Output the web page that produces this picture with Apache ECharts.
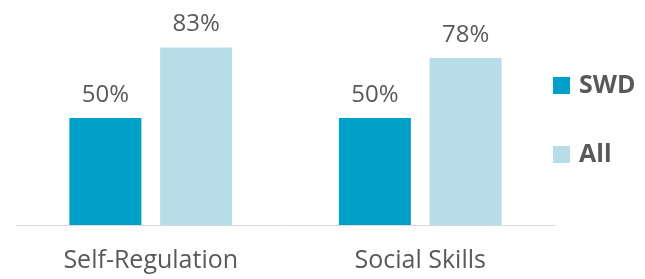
<!DOCTYPE html>
<html>
<head>
<meta charset="utf-8">
<script src="https://cdn.jsdelivr.net/npm/echarts@6/dist/echarts.min.js"></script>
<style>html,body{margin:0;padding:0;background:#fff;}#c{width:645px;height:279px;}</style>
</head>
<body>
<div id="c"></div>
<script>
const categories = ["Self-Regulation", "Social Skills"];
const seriesNames = ["SWD", "All"];
const swdValues = [50, 50];
const allValues = [83, 78];

const chart = echarts.init(document.getElementById('c'), null, {renderer: 'canvas'});
const FONT = "'Open Sans', sans-serif";
const labelStyle = {
  show: true, position: 'top', distance: 11,
  formatter: p => p.value + '%',
  color: '#595959', fontSize: 24, fontFamily: FONT
};
chart.setOption({
  animation: false,
  backgroundColor: '#ffffff',
  grid: {left: 16, right: 90, top: 11, bottom: 54},
  legend: {
    orient: 'vertical', left: 553, top: 73, padding: 0,
    itemWidth: 17, itemHeight: 17, itemGap: 44,
    icon: 'rect',
    textStyle: {color: '#595959', fontSize: 25, fontWeight: 'bold', fontFamily: FONT, padding: [0,0,0,4]},
    data: seriesNames
  },
  xAxis: {
    type: 'category', data: categories,
    axisLine: {lineStyle: {color: '#D9D9D9', width: 1}},
    axisTick: {show: false},
    axisLabel: {color: '#595959', fontSize: 25, fontFamily: FONT, margin: 23}
  },
  yAxis: {
    type: 'value', min: 0, max: 100,
    show: false, splitLine: {show: false}
  },
  series: [
    {name: seriesNames[0], type: 'bar', data: swdValues, barWidth: 72, barGap: '26%',
     itemStyle: {color: '#00A0C8'}, label: labelStyle},
    {name: seriesNames[1], type: 'bar', data: allValues, barWidth: 72, barGap: '26%',
     itemStyle: {color: '#B7DDE8'}, label: labelStyle}
  ]
});
</script>
</body>
</html>
